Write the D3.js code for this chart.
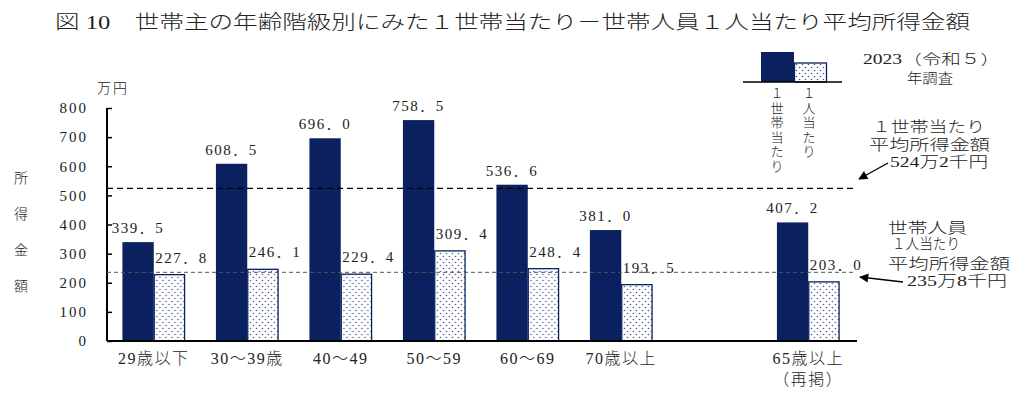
<!DOCTYPE html>
<html>
<head>
<meta charset="utf-8">
<script src="https://cdn.jsdelivr.net/npm/d3@7"></script>
<style>
  body { margin: 0; background: #fff; }
  svg text { font-family: "Liberation Serif", "Noto Sans CJK JP", serif; fill: #222; font-weight: 300; }
</style>
</head>
<body>
<div id="chart-area"></div>
<script>
const W = 1020, H = 398;
const margin = {top: 108, right: 165, bottom: 57, left: 107};

// data
const categories = ["29歳以下", "30～39歳", "40～49", "50～59", "60～69", "70歳以上", "", "65歳以上"];
const subLabels = ["", "", "", "", "", "", "", "（再掲）"];
const perHousehold = [339.5, 608.5, 696.0, 758.5, 536.6, 381.0, null, 407.2];
const perPerson = [227.8, 246.1, 229.4, 309.4, 248.4, 193.5, null, 203.0];
const avgHousehold = 524.2;
const avgPerson = 235.8;
const yTicks = [0, 100, 200, 300, 400, 500, 600, 700, 800];

const navy = "#0b215f";

const svg = d3.select("#chart-area").append("svg")
  .attr("width", W).attr("height", H);

const defs = svg.append("defs");
const pat = defs.append("pattern")
  .attr("id", "dots").attr("patternUnits", "userSpaceOnUse")
  .attr("width", 6).attr("height", 6);
pat.append("rect").attr("width", 6).attr("height", 6).attr("fill", "#fff");
pat.append("circle").attr("cx", 1.5).attr("cy", 1.5).attr("r", 0.8).attr("fill", "#4a5a95");
pat.append("circle").attr("cx", 4.5).attr("cy", 4.5).attr("r", 0.8).attr("fill", "#4a5a95");

//--------------------------- SCALES
const x = d3.scaleBand()
  .domain(categories)
  .range([margin.left, 855])
  .paddingInner(0.33)
  .paddingOuter(0.165);

const sub = d3.scaleBand()
  .domain(["h", "p"])
  .range([0, x.bandwidth()]);

const y = d3.scaleLinear()
  .domain([0, 800])
  .range([341, 108]);

//--------------------------- TITLE
svg.append("text")
  .attr("x", 55).attr("y", 29)
  .attr("textLength", 915).attr("lengthAdjust", "spacingAndGlyphs")
  .style("font-size", "19px")
  .text("図 10　世帯主の年齢階級別にみた１世帯当たり－世帯人員１人当たり平均所得金額");

//--------------------------- AXES
const yAxis = d3.axisLeft(y).tickValues(yTicks).tickSize(-5).tickPadding(19);
const yg = svg.append("g").attr("transform", `translate(${margin.left},0)`).call(yAxis);
yg.select(".domain").remove();
yg.selectAll(".tick line").attr("stroke", "#000").attr("stroke-width", 1.5);
yg.selectAll(".tick text").style("font-size", "15px").style("letter-spacing", "2px").attr("fill", "#222");

svg.append("line")
  .attr("x1", margin.left).attr("x2", margin.left)
  .attr("y1", y(800)).attr("y2", y(0))
  .attr("stroke", "#000").attr("stroke-width", 2);

svg.append("text")
  .attr("x", 113).attr("y", 93)
  .attr("text-anchor", "middle")
  .style("font-size", "14px")
  .style("letter-spacing", "2px")
  .text("万円");

// vertical y label
svg.append("g").selectAll("text")
  .data(["所", "得", "金", "額"])
  .join("text")
  .attr("x", 21)
  .attr("y", (d, i) => 183 + i * 36)
  .attr("text-anchor", "middle")
  .style("font-size", "14px")
  .text(d => d);

//--------------------------- BARS
const groups = svg.append("g").selectAll("g")
  .data(categories)
  .join("g")
  .attr("transform", d => `translate(${x(d)},0)`);

groups.filter((d, i) => perHousehold[i] != null)
  .append("rect")
  .attr("x", sub("h"))
  .attr("width", sub.bandwidth())
  .attr("y", (d) => y(perHousehold[categories.indexOf(d)]))
  .attr("height", (d) => y(0) - y(perHousehold[categories.indexOf(d)]))
  .attr("fill", navy);

groups.filter((d, i) => perPerson[i] != null)
  .append("rect")
  .attr("x", sub("p") + 0.5)
  .attr("width", sub.bandwidth() - 1)
  .attr("y", (d) => y(perPerson[categories.indexOf(d)]))
  .attr("height", (d) => y(0) - y(perPerson[categories.indexOf(d)]))
  .attr("fill", "url(#dots)")
  .attr("stroke", navy)
  .attr("stroke-width", 1.3);

const fmt = v => d3.format(".1f")(v).replace(".", "．");

groups.filter((d, i) => perHousehold[i] != null)
  .append("text")
  .attr("x", sub("h") + sub.bandwidth() / 2)
  .attr("y", d => y(perHousehold[categories.indexOf(d)]) - 9)
  .attr("text-anchor", "middle")
  .style("font-size", "15px")
  .style("letter-spacing", "1.5px")
  .text(d => fmt(perHousehold[categories.indexOf(d)]));

groups.filter((d, i) => perPerson[i] != null)
  .append("text")
  .attr("x", sub("p") + sub.bandwidth() / 2 + 12)
  .attr("y", d => y(perPerson[categories.indexOf(d)]) - 12)
  .attr("text-anchor", "middle")
  .style("font-size", "15px")
  .style("letter-spacing", "1.5px")
  .text(d => fmt(perPerson[categories.indexOf(d)]));

// x labels
groups.append("text")
  .attr("x", x.bandwidth() / 2)
  .attr("y", 364)
  .attr("text-anchor", "middle")
  .style("font-size", "16px")
  .style("letter-spacing", "1.5px")
  .text(d => d);

groups.append("text")
  .attr("x", x.bandwidth() / 2)
  .attr("y", 385)
  .attr("text-anchor", "middle")
  .style("font-size", "16px")
  .style("letter-spacing", "1.5px")
  .text((d, i) => subLabels[i]);

// baseline
svg.append("line")
  .attr("x1", margin.left).attr("x2", 857)
  .attr("y1", y(0)).attr("y2", y(0))
  .attr("stroke", "#000").attr("stroke-width", 2);

//--------------------------- AVERAGE LINES
svg.append("line")
  .attr("x1", margin.left).attr("x2", 855)
  .attr("y1", y(avgHousehold)).attr("y2", y(avgHousehold))
  .attr("stroke", "#000").attr("stroke-width", 1.4)
  .attr("stroke-dasharray", "6,4");

svg.append("line")
  .attr("x1", margin.left).attr("x2", 855)
  .attr("y1", y(avgPerson)).attr("y2", y(avgPerson))
  .attr("stroke", "#555").attr("stroke-width", 1)
  .attr("stroke-dasharray", "4,3");

//--------------------------- LEGEND
const lg = svg.append("g");
lg.append("rect").attr("x", 761).attr("y", 52).attr("width", 33).attr("height", 30).attr("fill", navy);
lg.append("rect").attr("x", 794.5).attr("y", 63).attr("width", 32).attr("height", 19)
  .attr("fill", "url(#dots)").attr("stroke", navy).attr("stroke-width", 1.3);
lg.append("line").attr("x1", 743).attr("x2", 842).attr("y1", 82).attr("y2", 82)
  .attr("stroke", "#000").attr("stroke-width", 1.5);

[["１", "世", "帯", "当", "た", "り"], ["１", "人", "当", "た", "り"]].forEach((chars, k) => {
  lg.append("g").selectAll("text")
    .data(chars)
    .join("text")
    .attr("x", k === 0 ? 777 : 809)
    .attr("y", (d, i) => 98 + i * 14.6)
    .attr("text-anchor", "middle")
    .style("font-size", "13px")
    .text(d => d);
});

lg.append("text").attr("x", 863).attr("y", 64)
  .attr("textLength", 137).attr("lengthAdjust", "spacingAndGlyphs")
  .style("font-size", "14px").text("2023（令和５）");
lg.append("text").attr("x", 907).attr("y", 83)
  .attr("textLength", 46).attr("lengthAdjust", "spacingAndGlyphs")
  .style("font-size", "14px").text("年調査");

//--------------------------- ANNOTATIONS
defs.append("marker")
  .attr("id", "arrow").attr("viewBox", "0 0 10 10")
  .attr("refX", 9).attr("refY", 5)
  .attr("markerWidth", 9).attr("markerHeight", 7)
  .attr("orient", "auto-start-reverse")
  .append("path").attr("d", "M0,0L10,5L0,10z").attr("fill", "#000");

const ann1 = [["１世帯当たり", 872, 132, 113], ["平均所得金額", 869, 150, 121], ["524万2千円", 890, 167, 98]];
const ann2 = [["世帯人員", 888, 233, 79], ["１人当たり", 892, 249, 68], ["平均所得金額", 888, 269, 122], ["235万8千円", 907, 286, 100]];

svg.append("g").selectAll("text")
  .data(ann1.concat(ann2))
  .join("text")
  .attr("x", d => d[1]).attr("y", d => d[2])
  .attr("textLength", d => d[3]).attr("lengthAdjust", "spacingAndGlyphs")
  .style("font-size", "15px")
  .text(d => d[0]);

svg.append("line")
  .attr("x1", 888).attr("y1", 163).attr("x2", 859).attr("y2", 179)
  .attr("stroke", "#000").attr("stroke-width", 1.3)
  .attr("marker-end", "url(#arrow)");

svg.append("line")
  .attr("x1", 903).attr("y1", 282).attr("x2", 860).attr("y2", 277)
  .attr("stroke", "#000").attr("stroke-width", 1.3)
  .attr("marker-end", "url(#arrow)");
</script>
</body>
</html>
